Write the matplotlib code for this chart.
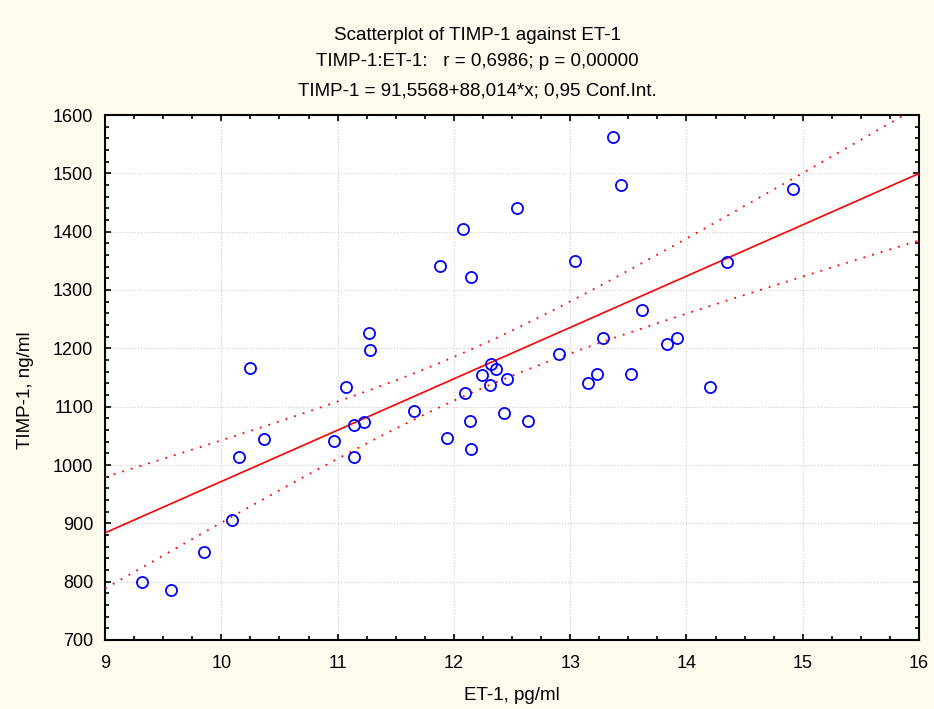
import numpy as np
import matplotlib
matplotlib.use("Agg")
import matplotlib.pyplot as plt
from matplotlib.ticker import MultipleLocator

plt.rcParams['font.family'] = ['Liberation Sans', 'DejaVu Sans']

# ET-1 (pg/ml) and TIMP-1 (ng/ml)
et1 = [9.32, 9.57, 9.85, 10.09, 10.15, 10.25, 10.37, 10.97, 11.07, 11.14,
       11.14, 11.23, 11.27, 11.28, 11.66, 11.94, 12.10, 12.14, 12.15, 12.24,
       12.31, 12.32, 12.36, 12.43, 12.46, 11.88, 12.08, 12.15, 13.37, 13.44,
       12.54, 13.04, 14.35, 14.92, 13.62, 13.28, 12.90, 13.83, 13.92, 13.15,
       13.23, 13.52, 14.20, 12.64]
timp1 = [799, 785, 851, 906, 1014, 1166, 1044, 1042, 1133, 1068,
         1014, 1074, 1226, 1197, 1093, 1046, 1123, 1076, 1027, 1154,
         1137, 1173, 1164, 1090, 1147, 1341, 1405, 1322, 1563, 1480,
         1441, 1350, 1348, 1474, 1266, 1217, 1190, 1207, 1218, 1141,
         1156, 1156, 1133, 1076]

# regression from the chart title
intercept = 91.5568
slope = 88.014

x = np.array(et1)
y = np.array(timp1)
n = len(x)
resid = y - (intercept + slope * x)
s = np.sqrt(np.sum(resid ** 2) / (n - 2))
t_val = 2.018  # t(0.975, n-2)
xs = np.linspace(9, 16, 200)
fit = intercept + slope * xs
half = t_val * s * np.sqrt(1 / n + (xs - x.mean()) ** 2 / np.sum((x - x.mean()) ** 2))

bg = '#FFF9EE'
W, H = 934, 709
fig = plt.figure(figsize=(W / 100, H / 100), dpi=100, facecolor=bg)
ax = fig.add_axes([105 / W, 1 - 640 / H, 814 / W, 525 / H])
ax.set_facecolor('white')

ax.plot(xs, fit, color='#FF0000', lw=1.2, zorder=3)
ax.plot(xs, fit + half, color='#FF0000', lw=1.3, ls=(0, (1, 4)), zorder=3)
ax.plot(xs, fit - half, color='#FF0000', lw=1.3, ls=(0, (1, 4)), zorder=3)
ax.plot(et1, timp1, 'o', mfc='none', mec='#0000FF', ms=8, mew=1.3, zorder=4)

ax.set_xlim(9, 16)
ax.set_ylim(700, 1600)
ax.xaxis.set_major_locator(MultipleLocator(1))
ax.xaxis.set_minor_locator(MultipleLocator(0.25))
ax.yaxis.set_major_locator(MultipleLocator(100))
ax.yaxis.set_minor_locator(MultipleLocator(20))
ax.tick_params(which='both', direction='in', top=True, right=True,
               labelsize=13, width=1.2)
ax.tick_params(axis='x', which='major', pad=11)
ax.tick_params(axis='y', which='major', pad=8.5)
ax.tick_params(which='major', length=4)
ax.tick_params(which='minor', length=3)
ax.grid(True, which='major', color='#CCCCCC', ls=':', lw=0.8)
for sp in ax.spines.values():
    sp.set_linewidth(1.5)

fig.text(512 / W, 1 - 700 / H, 'ET-1, pg/ml', ha='center', va='baseline',
         fontsize=13.5)
fig.text(25 / W, 1 - 390 / H, 'TIMP-1, ng/ml', ha='center', va='center',
         rotation=90, fontsize=13.5)

fig.text(477 / W, 1 - 40.5 / H, 'Scatterplot of TIMP-1 against ET-1',
         ha='center', va='baseline', fontsize=13.5)
fig.text(477 / W, 1 - 66.5 / H, 'TIMP-1:ET-1:   r = 0,6986; p = 0,00000',
         ha='center', va='baseline', fontsize=13.5)
fig.text(477 / W, 1 - 95 / H, 'TIMP-1 = 91,5568+88,014*x; 0,95 Conf.Int.',
         ha='center', va='baseline', fontsize=13.5)

fig.savefig('out.png', dpi=100, facecolor=bg)
